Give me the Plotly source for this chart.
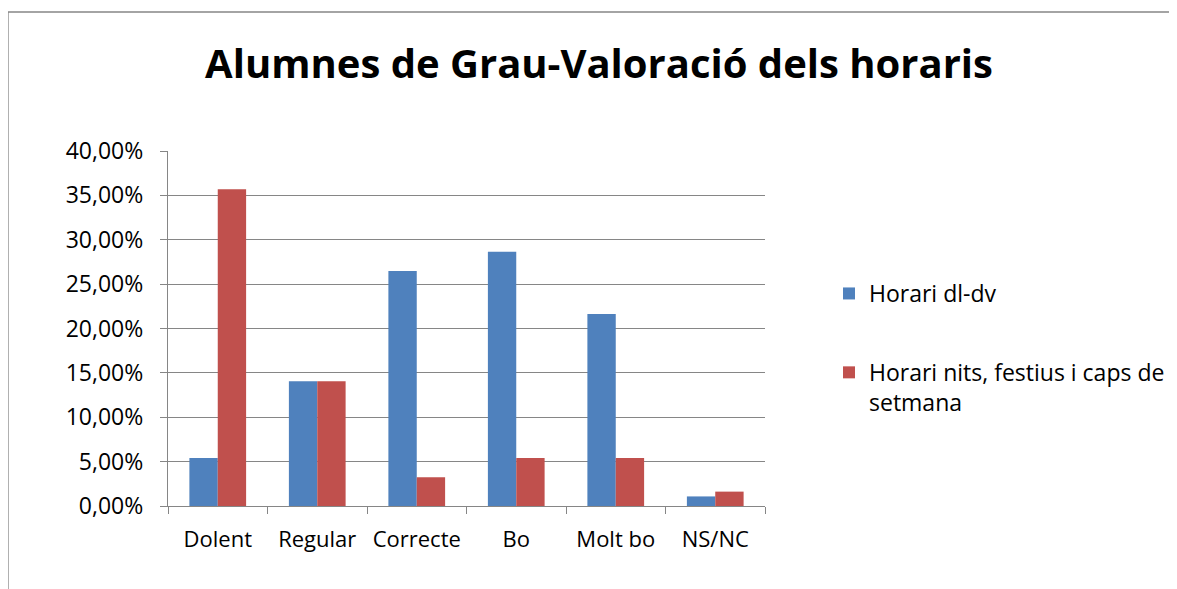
import plotly.graph_objects as go

categories = ["Dolent", "Regular", "Correcte", "Bo", "Molt bo", "NS/NC"]
horari_dl_dv = [0.0541, 0.1405, 0.2649, 0.2865, 0.2162, 0.0108]
horari_nits = [0.3568, 0.1405, 0.0324, 0.0541, 0.0541, 0.0162]
series_names = ["Horari dl-dv", "Horari nits, festius i caps de<br>setmana"]
y_ticks = [0, 0.05, 0.10, 0.15, 0.20, 0.25, 0.30, 0.35, 0.40]

FONT = "Open Sans"
GRID = "#868686"

# the page body has an 8px default margin; work in page pixels and convert
OFF = 8
PAGE_W, PAGE_H = 1177, 589
W, H = PAGE_W - OFF, PAGE_H - OFF
L, R, T, B = 168 - OFF, 765 - OFF, 151 - OFF, 506 - OFF

def px2paper_x(px):  # px in page coordinates
    return (px - OFF - L) / (R - L)

def px2paper_y(py):
    return (B - (py - OFF)) / (B - T)

fig = go.Figure()
fig.add_trace(go.Bar(x=categories, y=horari_dl_dv, name=series_names[0],
                     marker=dict(color="#4F81BD", line=dict(width=0)),
                     legendgroup="a"))
fig.add_trace(go.Bar(x=categories, y=horari_nits, name=series_names[1],
                     marker=dict(color="#C0504D", line=dict(width=0)),
                     legendgroup="b"))

fig.update_layout(
    width=W, height=H,
    margin=dict(l=L, r=W - R, t=T, b=H - B, pad=0, autoexpand=False),
    paper_bgcolor="white", plot_bgcolor="white",
    separators=",.",
    barmode="group", bargap=0.43, bargroupgap=0,
    font=dict(family=FONT, size=23, color="black"),
    title=dict(text="<b>Alumnes de Grau-Valoració dels horaris</b>",
               font=dict(family=FONT, size=40, color="black"),
               x=(599 - OFF) / W, xanchor="center", xref="container",
               y=1 - (64 - OFF) / H, yanchor="middle", yref="container"),
    xaxis=dict(showline=True, linecolor=GRID, linewidth=1.3,
               ticks="outside", ticklen=7, tickcolor=GRID, tickwidth=1.3,
               tickson="boundaries", showgrid=False, tickangle=0,
               automargin=False,
               tickfont=dict(family=FONT, size=22, color="black"),
               ticklabelstandoff=13),
    yaxis=dict(range=[0, 0.40], tickvals=y_ticks, tickformat=".2%",
               showline=True, linecolor=GRID, linewidth=1.3,
               ticks="outside", ticklen=7, tickcolor=GRID, tickwidth=1.3,
               showgrid=True, gridcolor=GRID, gridwidth=1.3,
               zeroline=False, automargin=False,
               tickfont=dict(family=FONT, size=23, color="black"),
               ticklabelstandoff=12),
    legend=dict(x=px2paper_x(829), xanchor="left",
                y=px2paper_y(272), yanchor="top",
                traceorder="grouped", tracegroupgap=46,
                valign="top",
                font=dict(family=FONT, size=23, color="black"),
                bgcolor="rgba(0,0,0,0)"),
    shapes=[dict(type="rect", xref="paper", yref="paper",
                 x0=px2paper_x(8), x1=px2paper_x(1200),
                 y0=px2paper_y(620), y1=px2paper_y(12),
                 line=dict(color=GRID, width=1.3), fillcolor="rgba(0,0,0,0)",
                 layer="below")],
)

fig.write_html("out.html")
